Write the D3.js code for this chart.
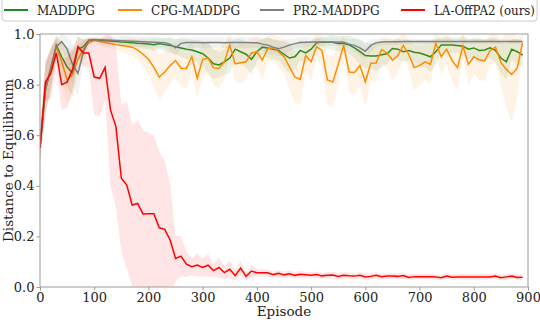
<!DOCTYPE html>
<html lang="en">
<head>
<meta charset="UTF-8">
<title>Distance to Equilibrium</title>
<script src="https://d3js.org/d3.v7.min.js"></script>
<style>
    body { margin: 0; background: #fff; }
    svg { display: block; font-family: "DejaVu Serif", serif; }
    .tick text { font-size: 13px; fill: #222; }
</style>
</head>
<body>
<div id="chart"></div>
<script>
    // episodes every 10 steps
    const episodes = d3.range(0, 900, 10);

    const maddpg = [0.55,0.78,0.86,0.955,0.91,0.87,0.845,0.94,0.95,0.975,
        0.976,0.975,0.973,0.972,0.97,0.968,0.967,0.965,0.963,0.962,
        0.96,0.958,0.962,0.958,0.955,0.95,0.945,0.94,0.937,0.93,
        0.922,0.905,0.882,0.878,0.89,0.905,0.94,0.93,0.92,0.9,
        0.93,0.948,0.945,0.94,0.935,0.92,0.905,0.91,0.935,0.925,
        0.94,0.965,0.968,0.967,0.967,0.962,0.962,0.957,0.945,0.93,
        0.915,0.913,0.913,0.918,0.922,0.943,0.94,0.93,0.935,0.928,
        0.925,0.918,0.91,0.93,0.957,0.957,0.957,0.955,0.952,0.94,
        0.945,0.935,0.937,0.945,0.935,0.905,0.89,0.94,0.93,0.917];
    const maddpgStd = [0.06,0.1,0.08,0.04,0.06,0.08,0.09,0.05,0.03,0.01,
        0.008,0.008,0.008,0.01,0.01,0.012,0.012,0.015,0.015,0.02,
        0.02,0.025,0.02,0.025,0.03,0.03,0.035,0.04,0.04,0.045,
        0.05,0.06,0.06,0.05,0.05,0.06,0.04,0.05,0.05,0.06,
        0.04,0.03,0.04,0.04,0.04,0.05,0.06,0.05,0.04,0.04,
        0.03,0.02,0.02,0.025,0.03,0.03,0.03,0.035,0.04,0.05,
        0.05,0.05,0.06,0.05,0.04,0.03,0.04,0.04,0.04,0.04,
        0.05,0.05,0.06,0.05,0.03,0.03,0.03,0.03,0.04,0.04,
        0.04,0.05,0.04,0.04,0.05,0.06,0.07,0.04,0.05,0.05];

    const cpg = [0.55,0.79,0.86,0.95,0.89,0.82,0.84,0.9,0.94,0.965,
        0.975,0.97,0.966,0.962,0.958,0.955,0.952,0.948,0.937,0.92,
        0.9,0.868,0.83,0.85,0.875,0.895,0.865,0.864,0.91,0.825,
        0.9,0.905,0.866,0.864,0.89,0.956,0.882,0.886,0.89,0.925,
        0.93,0.897,0.943,0.945,0.93,0.91,0.87,0.83,0.82,0.915,
        0.89,0.95,0.935,0.818,0.81,0.88,0.956,0.85,0.848,0.875,
        0.81,0.884,0.885,0.938,0.925,0.897,0.915,0.955,0.92,0.867,
        0.875,0.89,0.88,0.963,0.91,0.94,0.895,0.867,0.953,0.88,
        0.91,0.898,0.894,0.935,0.948,0.888,0.86,0.84,0.865,0.965];
    const cpgStd = [0.06,0.1,0.08,0.04,0.07,0.1,0.09,0.06,0.03,0.015,
        0.01,0.012,0.015,0.02,0.02,0.025,0.03,0.035,0.04,0.05,
        0.06,0.08,0.09,0.08,0.07,0.07,0.07,0.08,0.06,0.08,
        0.07,0.06,0.07,0.08,0.07,0.04,0.07,0.08,0.07,0.06,
        0.06,0.08,0.05,0.05,0.06,0.07,0.09,0.1,0.1,0.06,
        0.08,0.05,0.06,0.1,0.1,0.08,0.04,0.08,0.09,0.08,
        0.1,0.07,0.07,0.05,0.06,0.08,0.07,0.05,0.06,0.09,
        0.08,0.07,0.08,0.04,0.07,0.06,0.08,0.09,0.05,0.08,
        0.07,0.08,0.08,0.06,0.06,0.09,0.15,0.19,0.12,0.04];

    const pr2 = [0.55,0.78,0.87,0.95,0.97,0.94,0.88,0.845,0.93,0.975,
        0.978,0.977,0.976,0.975,0.974,0.973,0.972,0.971,0.97,0.969,
        0.968,0.967,0.966,0.965,0.96,0.945,0.963,0.966,0.966,0.966,
        0.965,0.966,0.966,0.966,0.965,0.966,0.966,0.966,0.966,0.965,
        0.965,0.96,0.956,0.948,0.942,0.948,0.956,0.962,0.966,0.967,
        0.968,0.968,0.968,0.968,0.968,0.968,0.967,0.96,0.955,0.945,
        0.932,0.955,0.965,0.968,0.969,0.969,0.969,0.97,0.97,0.97,
        0.97,0.97,0.97,0.97,0.97,0.97,0.97,0.97,0.97,0.97,
        0.97,0.97,0.97,0.97,0.97,0.97,0.97,0.97,0.97,0.97];
    const pr2Std = [0.06,0.1,0.08,0.03,0.03,0.05,0.08,0.09,0.05,0.01,
        0.008,0.01,0.012,0.015,0.015,0.02,0.02,0.02,0.02,0.02,
        0.02,0.02,0.02,0.02,0.025,0.03,0.025,0.02,0.02,0.02,
        0.02,0.02,0.02,0.02,0.02,0.02,0.02,0.02,0.02,0.02,
        0.02,0.025,0.03,0.03,0.03,0.03,0.025,0.02,0.02,0.02,
        0.015,0.015,0.015,0.015,0.015,0.015,0.015,0.02,0.025,0.03,
        0.03,0.025,0.015,0.012,0.012,0.012,0.012,0.01,0.01,0.01,
        0.01,0.01,0.01,0.01,0.01,0.01,0.01,0.01,0.01,0.01,
        0.01,0.01,0.01,0.01,0.01,0.01,0.01,0.01,0.01,0.01];

    const laoff = [0.55,0.81,0.845,0.925,0.80,0.81,0.86,0.95,0.925,0.925,
        0.83,0.825,0.868,0.70,0.634,0.43,0.403,0.324,0.33,0.289,
        0.29,0.29,0.234,0.228,0.186,0.113,0.122,0.09,0.08,0.087,
        0.077,0.086,0.065,0.077,0.057,0.07,0.045,0.075,0.042,0.063,
        0.056,0.056,0.056,0.049,0.054,0.048,0.052,0.046,0.05,0.048,
        0.046,0.049,0.044,0.046,0.047,0.042,0.046,0.044,0.043,0.046,
        0.04,0.042,0.046,0.041,0.043,0.043,0.042,0.045,0.038,0.041,
        0.041,0.041,0.041,0.04,0.037,0.043,0.039,0.04,0.04,0.04,
        0.04,0.04,0.04,0.04,0.043,0.037,0.04,0.043,0.038,0.039];
    const laoffStd = [0.05,0.08,0.1,0.06,0.1,0.1,0.08,0.04,0.05,0.06,
        0.15,0.15,0.13,0.3,0.32,0.29,0.33,0.32,0.33,0.33,
        0.32,0.31,0.3,0.27,0.22,0.09,0.08,0.05,0.035,0.045,
        0.035,0.045,0.025,0.04,0.025,0.035,0.02,0.03,0.015,0.025,
        0.015,0.014,0.014,0.013,0.014,0.013,0.013,0.012,0.013,0.012,
        0.012,0.012,0.012,0.012,0.012,0.012,0.012,0.012,0.012,0.012,
        0.012,0.012,0.012,0.012,0.012,0.012,0.012,0.012,0.011,0.011,
        0.011,0.011,0.011,0.011,0.011,0.011,0.011,0.011,0.011,0.011,
        0.011,0.011,0.011,0.011,0.011,0.011,0.011,0.011,0.011,0.011];

    const seriesNames = ['MADDPG', 'CPG-MADDPG', 'PR2-MADDPG', 'LA-OffPA2 (ours)'];
    const seriesColors = ['#1f8a1f', '#ff8c00', '#808080', '#ff0000'];
    const seriesMeans = [maddpg, cpg, pr2, laoff];
    const seriesStds = [maddpgStd, cpgStd, pr2Std, laoffStd];

    const xTicks = [0, 100, 200, 300, 400, 500, 600, 700, 800, 900];
    const yTicks = [0.0, 0.2, 0.4, 0.6, 0.8, 1.0];

    const width = 540, height = 322;
    const margin = {left: 40, right: 12, top: 34, bottom: 35};

    const svg = d3.select('#chart').append('svg')
        .attr('width', width)
        .attr('height', height);

    const x = d3.scaleLinear().domain([0, 900]).range([margin.left, width - margin.right]);
    const y = d3.scaleLinear().domain([0, 1]).range([height - margin.bottom, margin.top]);

    svg.append('clipPath').attr('id', 'plot-clip')
        .append('rect')
        .attr('x', margin.left).attr('y', margin.top)
        .attr('width', x(900) - x(0)).attr('height', y(0) - y(1));

    const plot = svg.append('g').attr('clip-path', 'url(#plot-clip)');

    const area = d3.area()
        .x(d => x(d.ep))
        .y0(d => y(d.m - d.s))
        .y1(d => y(d.m + d.s));
    const line = d3.line()
        .x(d => x(d.ep))
        .y(d => y(d.m));

    seriesNames.forEach((name, k) => {
        const rows = episodes.map((ep, i) => ({ep: ep, m: seriesMeans[k][i], s: seriesStds[k][i]}));
        plot.append('path')
            .datum(rows)
            .attr('d', area)
            .attr('fill', seriesColors[k])
            .attr('fill-opacity', 0.1);
        plot.append('path')
            .datum(rows)
            .attr('d', line)
            .attr('fill', 'none')
            .attr('stroke', seriesColors[k])
            .attr('stroke-width', 1.5);
    });

    // frame
    svg.append('rect')
        .attr('x', margin.left).attr('y', margin.top)
        .attr('width', x(900) - x(0)).attr('height', y(0) - y(1))
        .attr('fill', 'none')
        .attr('stroke', '#9a9a9a')
        .attr('stroke-width', 1);

    const xAxis = svg.append('g')
        .attr('transform', `translate(0,${y(0)})`)
        .call(d3.axisBottom(x).tickValues(xTicks).tickFormat(d3.format('d')).tickSize(3.5).tickPadding(2));
    const yAxis = svg.append('g')
        .attr('transform', `translate(${margin.left},0)`)
        .call(d3.axisLeft(y).tickValues(yTicks).tickFormat(d3.format('.1f')).tickSize(3.5).tickPadding(2));
    [xAxis, yAxis].forEach(a => {
        a.select('.domain').remove();
        a.selectAll('.tick line').attr('stroke', '#9a9a9a');
        a.selectAll('.tick text').attr('font-family', 'DejaVu Serif');
    });

    svg.append('text')
        .attr('x', (x(0) + x(900)) / 2)
        .attr('y', 316)
        .attr('text-anchor', 'middle')
        .attr('font-size', 13.5)
        .attr('fill', '#222')
        .text('Episode');

    svg.append('text')
        .attr('transform', `translate(13,${(y(0) + y(1)) / 2}) rotate(-90)`)
        .attr('text-anchor', 'middle')
        .attr('font-size', 13.5)
        .attr('fill', '#222')
        .text('Distance to Equilibrium');

    // legend on top
    const legend = svg.append('g');
    legend.append('rect')
        .attr('x', 2).attr('y', -2)
        .attr('width', 535).attr('height', 23)
        .attr('rx', 3)
        .attr('fill', '#fff')
        .attr('fill-opacity', 0.9)
        .attr('stroke', '#cccccc');
    const legendX = [4, 118, 260, 401];
    seriesNames.forEach((name, k) => {
        legend.append('line')
            .attr('x1', legendX[k]).attr('x2', legendX[k] + 24)
            .attr('y1', 10).attr('y2', 10)
            .attr('stroke', seriesColors[k])
            .attr('stroke-width', 2);
        const t = legend.append('text')
            .attr('x', legendX[k] + 33)
            .attr('y', 14.5)
            .attr('font-size', 12)
            .attr('fill', '#222')
            .text(name);
        // squeeze the label if it would run past the legend box
        const room = 535 - (legendX[k] + 33);
        if (t.node().getComputedTextLength() > room) {
            t.attr('textLength', room).attr('lengthAdjust', 'spacingAndGlyphs');
        }
    });
</script>
</body>
</html>
